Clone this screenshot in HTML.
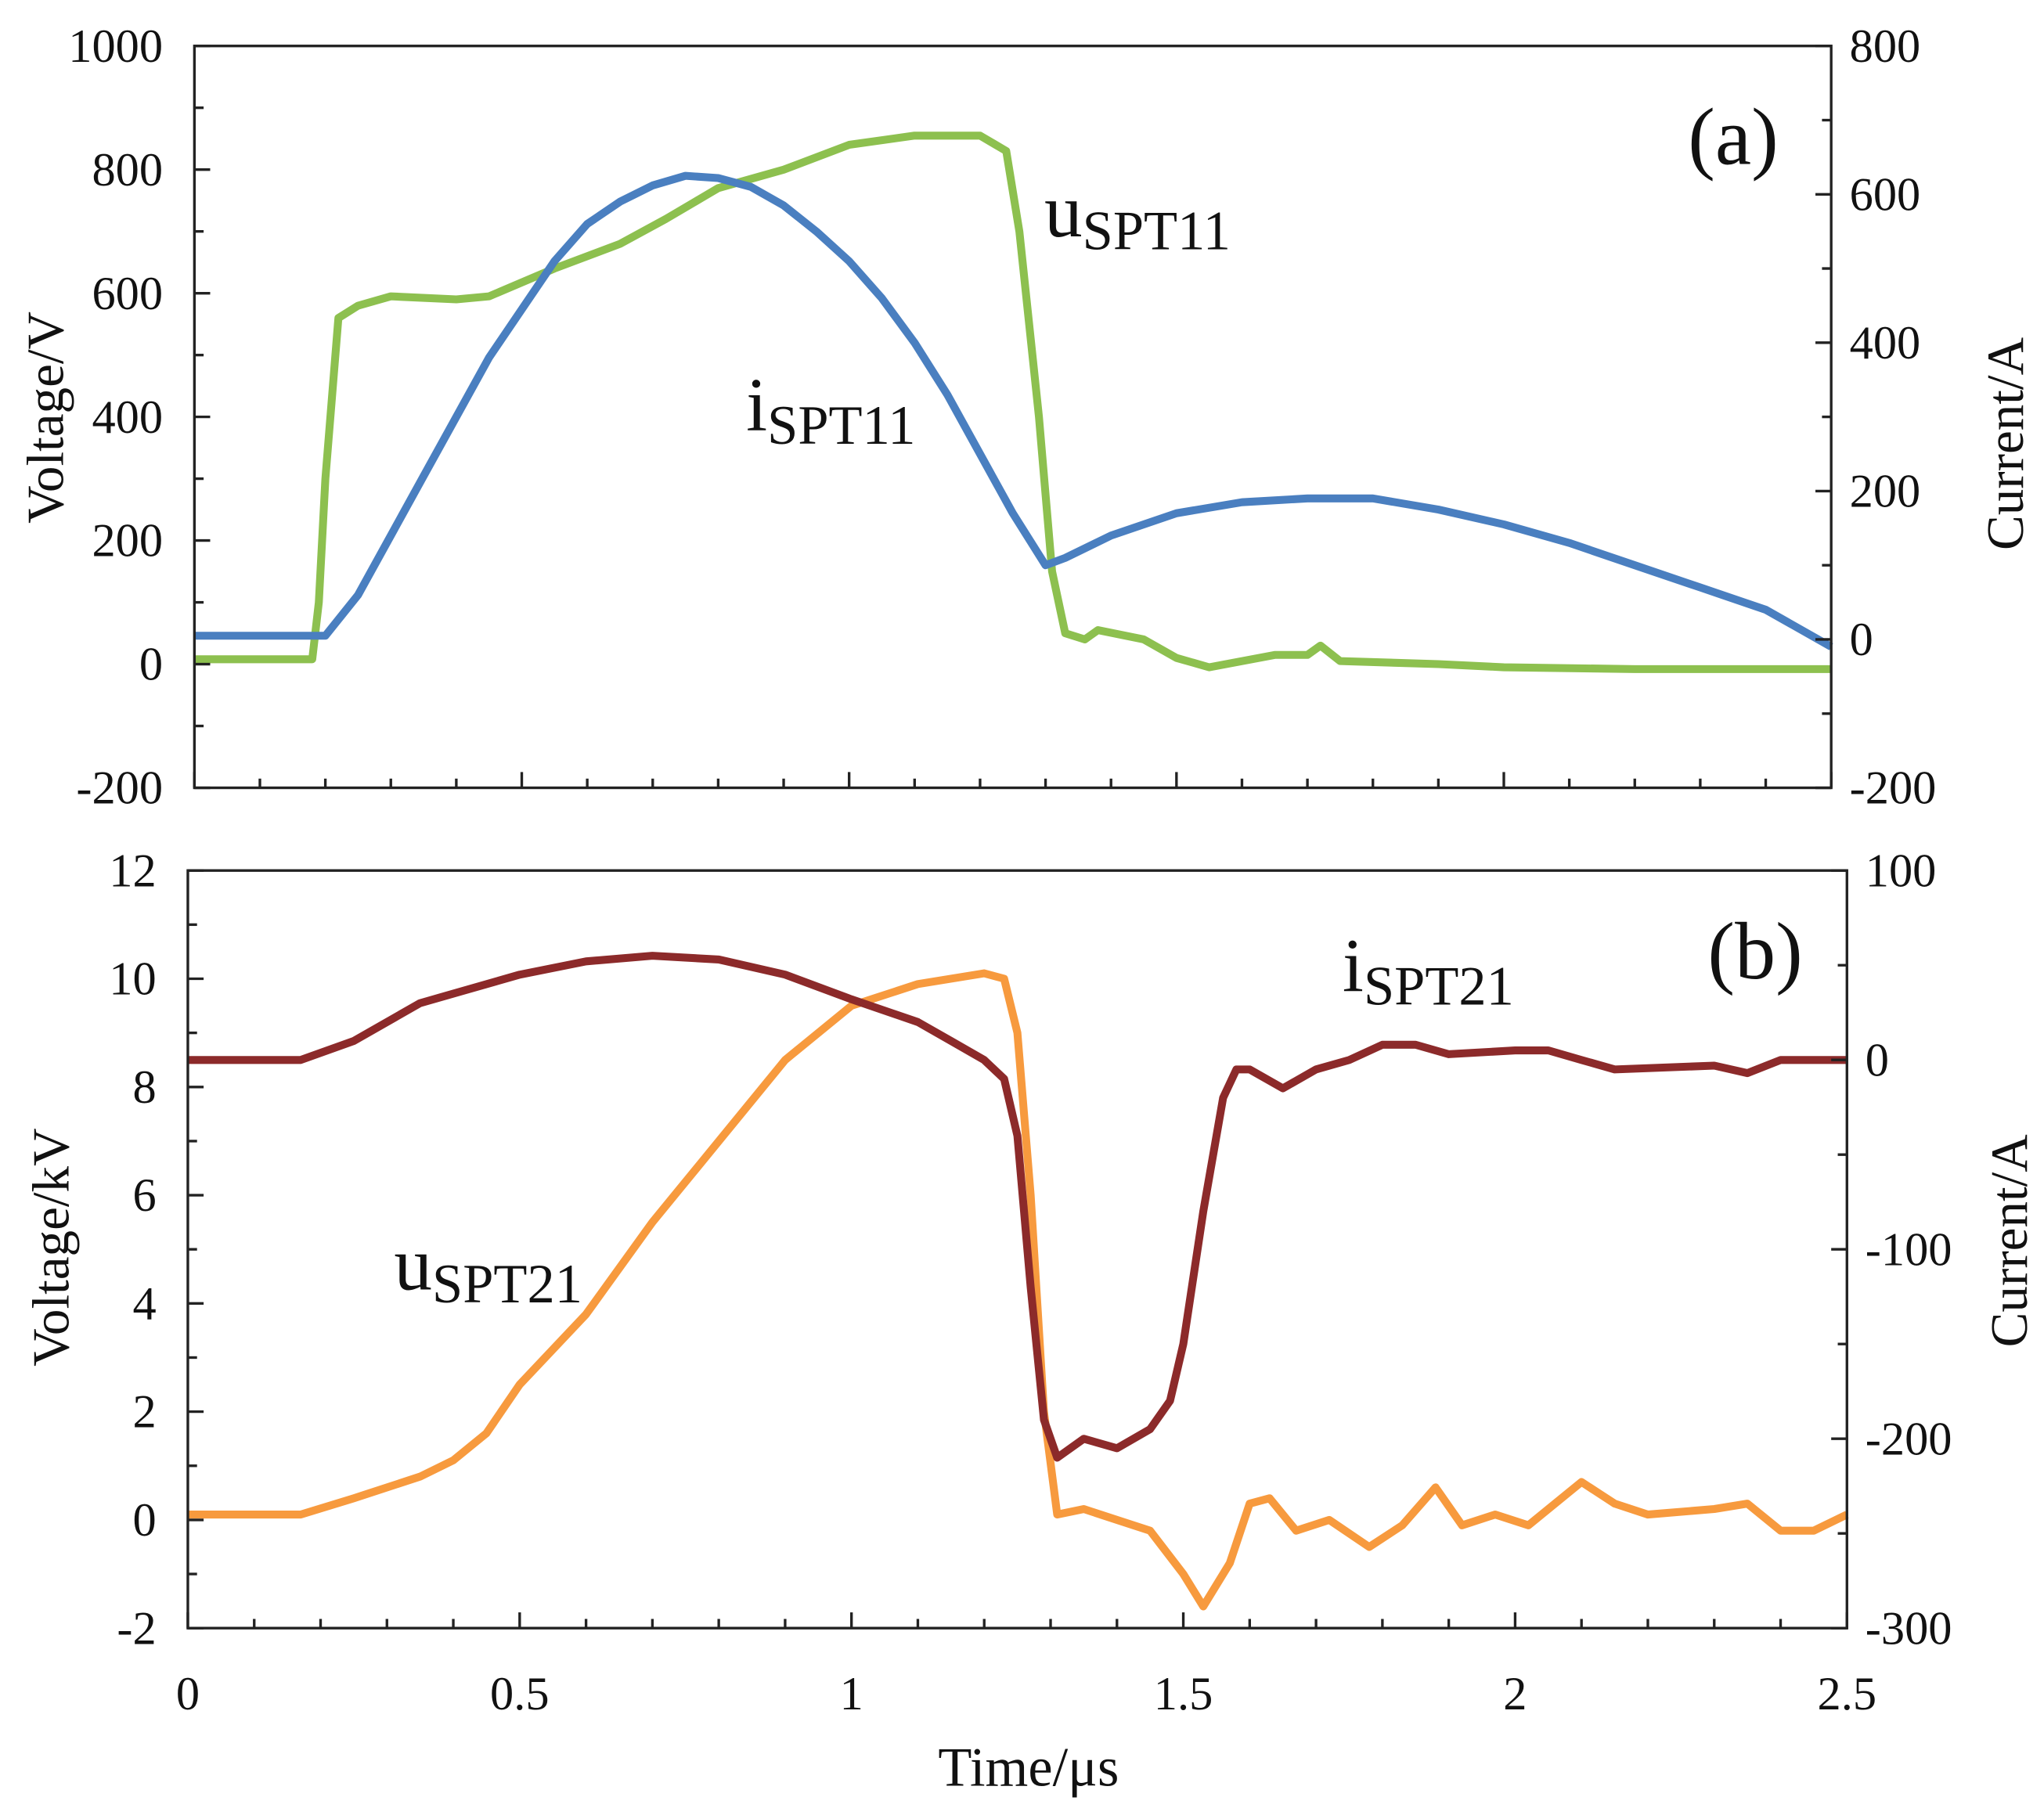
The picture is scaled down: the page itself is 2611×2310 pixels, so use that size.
<!DOCTYPE html>
<html><head><meta charset="utf-8"><style>
html,body{margin:0;padding:0;background:#fff;}
svg{display:block;}
text{font-family:"Liberation Serif",serif;fill:#111;}
</style></head><body>
<svg id="chart" width="2611" height="2310" viewBox="0 0 1556 1377" preserveAspectRatio="none" xmlns="http://www.w3.org/2000/svg"></svg>
<script>
const aT=[0,0.18,0.19,0.2,0.22,0.25,0.3,0.4,0.45,0.55,0.65,0.72,0.8,0.9,1.0,1.1,1.2,1.24,1.26,1.29,1.31,1.33,1.36,1.38,1.45,1.5,1.55,1.65,1.7,1.72,1.75,1.9,2.0,2.2,2.5];
const aV=[8,8,100,300,560,580,595,590,595,640,680,720,770,800,840,855,855,830,700,400,150,50,40,55,40,10,-5,15,15,30,5,0,-5,-8,-8];
const aIT=[0,0.2,0.25,0.35,0.45,0.55,0.6,0.65,0.7,0.75,0.8,0.85,0.9,0.95,1.0,1.05,1.1,1.15,1.2,1.25,1.3,1.33,1.4,1.5,1.6,1.7,1.8,1.9,2.0,2.1,2.2,2.3,2.4,2.5];
const aI=[5,5,60,220,380,510,560,590,612,625,622,610,585,550,510,460,400,330,250,170,100,110,140,170,185,190,190,175,155,130,100,70,40,-10];
const bVT=[0,0.17,0.25,0.35,0.4,0.45,0.5,0.6,0.7,0.8,0.9,1.0,1.1,1.2,1.23,1.25,1.27,1.29,1.31,1.35,1.4,1.45,1.5,1.53,1.57,1.6,1.63,1.67,1.72,1.78,1.83,1.88,1.92,1.97,2.02,2.1,2.15,2.2,2.3,2.35,2.4,2.45,2.5];
const bV=[0.1,0.1,0.4,0.8,1.1,1.6,2.5,3.8,5.5,7,8.5,9.5,9.9,10.1,10.0,9,6,2,0.1,0.2,0,-0.2,-1,-1.6,-0.8,0.3,0.4,-0.2,0,-0.5,-0.1,0.6,-0.1,0.1,-0.1,0.7,0.3,0.1,0.2,0.3,-0.2,-0.2,0.1];
const bIT=[0,0.17,0.25,0.35,0.5,0.6,0.7,0.8,0.9,1.0,1.1,1.15,1.2,1.23,1.25,1.27,1.29,1.31,1.35,1.4,1.45,1.48,1.5,1.53,1.56,1.58,1.6,1.65,1.7,1.75,1.8,1.85,1.9,2.0,2.05,2.1,2.15,2.3,2.35,2.4,2.5];
const bI=[0,0,10,30,45,52,55,53,45,32,20,10,0,-10,-40,-120,-190,-210,-200,-205,-195,-180,-150,-80,-20,-5,-5,-15,-5,0,8,8,3,5,5,0,-5,-3,-7,0,0];
const xTicks=[0,0.5,1,1.5,2,2.5];
const xTickLabels=["0","0.5","1","1.5","2","2.5"];
const aLeftTicks=[-200,0,200,400,600,800,1000];
const aRightTicks=[-200,0,200,400,600,800];
const bLeftTicks=[-2,0,2,4,6,8,10,12];
const bRightTicks=[-300,-200,-100,0,100];

const svg=document.getElementById('chart');
const NS='http://www.w3.org/2000/svg';
function mk(tag,attrs,parent){const e=document.createElementNS(NS,tag);for(const k in attrs)e.setAttribute(k,attrs[k]);(parent||svg).appendChild(e);return e;}
function lin(d0,d1,r0,r1){return v=>r0+(v-d0)/(d1-d0)*(r1-r0);}

function panel(cfg){
  const g=mk('g',{});
  
  
  const x=lin(0,2.5,cfg.x0,cfg.x1), yl=lin(cfg.l0,cfg.l1,cfg.y0,cfg.y1), yr=lin(cfg.r0,cfg.r1,cfg.y0,cfg.y1);
  cfg.series.forEach(s=>{
    const y=s.axis==='l'?yl:yr;
    const p=mk('polyline',{points:s.t.map((t,i)=>x(t).toFixed(1)+','+y(s.v[i]).toFixed(1)).join(' '),fill:'none',stroke:s.color,'stroke-width':6,'stroke-linejoin':'round'},g);
    
    
  });
  const fr=mk('rect',{x:cfg.x0,y:cfg.y1,width:cfg.x1-cfg.x0,height:cfg.y0-cfg.y1,fill:'none',stroke:'#222','stroke-width':2},g);
  
  
  for(let t=0;t<=2.5001;t+=0.1){const X=x(t);const maj=Math.abs(t*2-Math.round(t*2))<1e-6;
    mk('line',{x1:X,x2:X,y1:cfg.y0,y2:cfg.y0-(maj?12:7),stroke:'#222','stroke-width':2},g);}
  if(cfg.xlabels){xTicks.forEach((t,i)=>{const tx=mk('text',{x:x(t),y:cfg.y0+62,'font-size':36,'text-anchor':'middle'},g);tx.textContent=xTickLabels[i];
    });}
  cfg.lt.forEach((v,i)=>{const Y=yl(v);mk('line',{x1:cfg.x0,x2:cfg.x0+12,y1:Y,y2:Y,stroke:'#222','stroke-width':2},g);
    if(i<cfg.lt.length-1){const m=yl((v+cfg.lt[i+1])/2);mk('line',{x1:cfg.x0,x2:cfg.x0+7,y1:m,y2:m,stroke:'#222','stroke-width':2},g);}
    const tx=mk('text',{x:cfg.x0-24,y:Y+12,'font-size':36,'text-anchor':'end'},g);tx.textContent=v;
    });
  cfg.rt.forEach((v,i)=>{const Y=yr(v);mk('line',{x1:cfg.x1,x2:cfg.x1-12,y1:Y,y2:Y,stroke:'#222','stroke-width':2},g);
    if(i<cfg.rt.length-1){const m=yr((v+cfg.rt[i+1])/2);mk('line',{x1:cfg.x1,x2:cfg.x1-7,y1:m,y2:m,stroke:'#222','stroke-width':2},g);}
    const tx=mk('text',{x:cfg.x1+14,y:Y+12,'font-size':36,'text-anchor':'start'},g);tx.textContent=v;
    });
  return g;
}
panel({name:'panel-a',x0:148,x1:1394,y0:600,y1:35,l0:-200,l1:1000,r0:-200,r1:800,lt:aLeftTicks,rt:aRightTicks,xlabels:false,
  series:[{name:'u-spt11-line',t:aT,v:aV,axis:'l',color:'#8dc04f'},{name:'i-spt11-line',t:aIT,v:aI,axis:'r',color:'#4a7fc0'}]});
panel({name:'panel-b',x0:143,x1:1406,y0:1240,y1:663,l0:-2,l1:12,r0:-300,r1:100,lt:bLeftTicks,rt:bRightTicks,xlabels:true,
  series:[{name:'u-spt21-line',t:bVT,v:bV,axis:'l',color:'#f79a3e'},{name:'i-spt21-line',t:bIT,v:bI,axis:'r',color:'#8c2a2a'}]});
</script>
<svg style="position:absolute;left:0;top:0" width="2611" height="2310" viewBox="0 0 1556 1377" preserveAspectRatio="none" xmlns="http://www.w3.org/2000/svg">
<text x="1285" y="125" font-size="62">(a)</text>
<text x="1300" y="745" font-size="62">(b)</text>
<text x="795" y="180" font-size="58">u<tspan font-size="42" dy="10">SPT11</tspan></text>
<text x="568" y="328" font-size="58">i<tspan font-size="42" dy="10">SPT11</tspan></text>
<text x="1022" y="755" font-size="58">i<tspan font-size="42" dy="10">SPT21</tspan></text>
<text x="300" y="982" font-size="58">u<tspan font-size="42" dy="10">SPT21</tspan></text>
<text transform="translate(48,318) rotate(-90)" font-size="40" text-anchor="middle">Voltage/V</text>
<text transform="translate(1540,338) rotate(-90)" font-size="40" text-anchor="middle">Current/A</text>
<text transform="translate(52,950) rotate(-90)" font-size="40" text-anchor="middle">Voltage/kV</text>
<text transform="translate(1543,945) rotate(-90)" font-size="40" text-anchor="middle">Current/A</text>
<text x="783" y="1360" font-size="42" text-anchor="middle">Time/μs</text>
</svg>
</body></html>
